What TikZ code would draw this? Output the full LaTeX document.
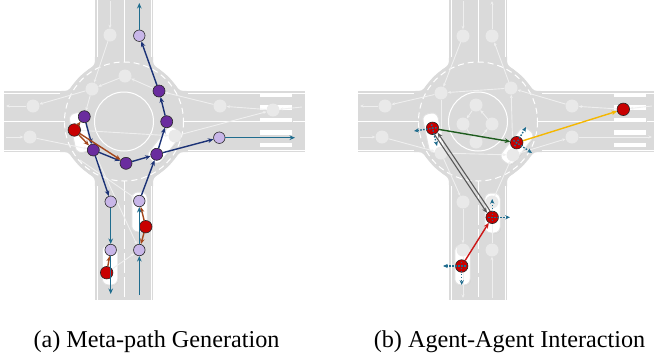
\documentclass[tikz,border=0pt]{standalone}
\usepackage{fontspec}
\setmainfont{Liberation Serif}
\usetikzlibrary{arrows.meta,calc,shadows}
\pgfdeclarelayer{roadlayer}
\pgfdeclarelayer{fadelayer}
\pgfsetlayers{roadlayer,fadelayer,main}
\definecolor{roadg}{HTML}{DADADA}
\definecolor{fadeg}{HTML}{E9E9E9}
\definecolor{fadel}{HTML}{EFEFEF}
\definecolor{lav}{HTML}{C8B6E8}
\definecolor{purp}{HTML}{6A2C9E}
\definecolor{redn}{HTML}{C80000}
\definecolor{navyc}{HTML}{1B3276}
\definecolor{tealc}{HTML}{1F6C8E}
\definecolor{brownc}{HTML}{A4471C}
\definecolor{greenc}{HTML}{1E5C1E}
\definecolor{yellowc}{HTML}{F5B700}
\definecolor{redc}{HTML}{CC1515}
\definecolor{greyc}{HTML}{5A5A5A}
\tikzset{
  tipb/.style={-{Stealth[length=5.5bp,width=4.6bp]}},
  nd/.style={circle, draw=black!85, line width=0.6bp, inner sep=0pt},
  lavn/.style={nd, fill=lav, minimum size=11.5bp},
  purn/.style={nd, fill=purp, minimum size=12bp},
  rednd/.style={nd, fill=redn, minimum size=12.5bp},
  fnode/.style={circle, fill=fadeg, inner sep=0pt, minimum size=13bp},
  fline/.style={draw=fadel, line width=0.9bp, -{Stealth[length=3.5bp,width=3bp]}},
  navye/.style={tipb, draw=navyc, line width=1.4bp},
  teale/.style={tipb, draw=tealc, line width=1.4bp},
  browne/.style={tipb, draw=brownc, line width=1.4bp},
  greene/.style={tipb, draw=greenc, line width=1.4bp},
  yellowe/.style={tipb, draw=yellowc, line width=1.4bp},
  rede/.style={tipb, draw=redc, line width=1.4bp},
  greye/.style={tipb, draw=greyc, line width=1.1bp},
  dotarr/.style={draw=tealc, line width=1.4bp, dash pattern=on 1.5bp off 1.5bp, -{Stealth[length=4.8bp,width=4.2bp]}},
  car/.style={rectangle, rounded corners=6bp, minimum width=15.5bp, minimum height=40bp,
    fill=white, draw=black!12, line width=1bp,
    drop shadow={shadow xshift=0.6bp, shadow yshift=-0.6bp, opacity=0.25, fill=black!40}},
  captxt/.style={anchor=base, inner sep=0pt, font=\fontsize{24.2bp}{29bp}\selectfont}
}
\newcommand{\roadnet}{%
  \fill[roadg] (-29,-121.5) rectangle (29,178.5);
  \fill[roadg] (-120,-30.5) rectangle (181,30.5);
  \fill[roadg] (0,0) circle[radius=63];
  \foreach \sx/\sy in {1/1,1/-1,-1/1,-1/-1}{
    \fill[roadg] (0,0) -- (\sx*29,\sy*64.93) .. controls (\sx*29,\sy*56.55) .. (\sx*35.89,\sy*51.78)
      -- (\sx*50.93,\sy*37.08) .. controls (\sx*55.72,\sy*30.5) .. (\sx*63.87,\sy*30.5) -- cycle;
  }
  \draw[white, line width=1bp] (-27,-121.5) -- (-27,-64.9) (27,-121.5) -- (27,-64.9)
    (-27,64.9) -- (-27,178.5) (27,64.9) -- (27,178.5)
    (-120,-28.5) -- (-63.9,-28.5) (-120,28.5) -- (-63.9,28.5)
    (63.9,-28.5) -- (181,-28.5) (63.9,28.5) -- (181,28.5);
  \draw[white, line width=1bp] (0,-121.5) -- (0,-59.5) (-120,0) -- (-59.5,0) (59.5,0) -- (136,0) (169,0) -- (181,0);
  \draw[white, line width=1bp, dash pattern=on 20bp off 4bp] (0,59.5) -- (0,178.5);
  \draw[white, line width=1bp, dash pattern=on 6bp off 4bp] (0,0) circle[radius=59.5];
  \draw[white, line width=1bp] (0,0) circle[radius=29.5];
  \foreach \yy in {-29,-16.5,-4,8.5,21}{\fill[white] (136,\yy) rectangle (168,\yy+4.5);}
}
\begin{document}
\begin{tikzpicture}[x=1bp, y=-1bp]
\useasboundingbox (0,0) rectangle (654,358);
% ---------- roads and cars ----------
\begin{pgfonlayer}{roadlayer}
  \begin{scope}[shift={(124,121.5)}] \roadnet \end{scope}
  \begin{scope}[shift={(478,121.5)}] \roadnet \end{scope}
  \node[car, rotate=12] (carA1) at (80,132.5) {};
  \node[car, rotate=-38] (carB1) at (164,145) {};
  \node[car] (carC1) at (139.5,212) {};
  \node[car] (carD1) at (110,265) {};
  \node[car, rotate=12] (carA2) at (433.5,133) {};
  \node[car, rotate=-38] (carB2) at (517,146) {};
  \node[car] (carC2) at (492.5,213) {};
  \node[car] (carD2) at (462.5,265) {};
\end{pgfonlayer}
% ---------- main nodes (left) ----------
\node[lavn] (l1) at (139.3,35.7) {};
\node[lavn] (l2) at (219.3,137.7) {};
\node[lavn] (l3) at (110.7,201.7) {};
\node[lavn] (l4) at (139.3,201) {};
\node[lavn] (l5) at (110.7,250) {};
\node[lavn] (l6) at (139.3,250) {};
\node[purn] (p1) at (159,91) {};
\node[purn] (p2) at (166.7,121.7) {};
\node[purn] (p3) at (84.3,116.7) {};
\node[purn] (p4) at (93.3,150) {};
\node[purn] (p5) at (126,163.3) {};
\node[purn] (p6) at (156.7,154.3) {};
\node[rednd] (rA) at (74.3,130) {};
\node[rednd] (rC) at (145.7,226.7) {};
\node[rednd] (rD) at (106.7,272.7) {};
\coordinate (tT) at (139.3,3);
\coordinate (tR) at (295,137.7);
\coordinate (tBL) at (110.7,294);
\coordinate (tBR) at (139.3,295);
% ---------- main nodes (right) ----------
\node[rednd] (r1) at (432.5,128.3) {};
\node[rednd] (r2) at (516.7,142.7) {};
\node[rednd] (r3) at (492.2,217.3) {};
\node[rednd] (r4) at (461.7,266) {};
\node[rednd] (r5) at (623.3,109.3) {};
% ---------- faded graphs ----------
\begin{pgfonlayer}{fadelayer}
  \node[fnode] (fa1) at (110,35) {};
  \node[fnode] (fa2) at (125,76) {};
  \node[fnode] (fa3) at (92,89) {};
  \node[fnode] (fa4) at (33,106) {};
  \node[fnode] (fa5) at (30,137) {};
  \node[fnode] (fa6) at (220,106) {};
  \node[fnode] (fa7) at (273,110) {};
  \node[fnode] (fa8) at (175,136) {};
  \coordinate (fa0) at (110,1);
  \coordinate (faL1) at (6,106);
  \coordinate (faL2) at (6,137);
  \coordinate (faR) at (302,107);
  \coordinate (faC) at (80,160);
  \draw[fline] (fa0) -- (fa1);
  \draw[fline] (fa1) -- (fa3);
  \draw[fline] (fa2) -- (fa3);
  \draw[fline] (p1) -- (fa2);
  \draw[fline] (fa3) -- (fa4);
  \draw[fline] (fa4) -- (faL1);
  \draw[fline] (fa3) -- (p3);
  \draw[fline] (faL2) -- (fa5);
  \draw[fline] (fa5) -- (p4);
  \draw[fline] (faR) -- (fa7);
  \draw[fline] (fa7) -- (fa6);
  \draw[fline] (fa6) -- (p1);
  \draw[fline] (fa8) -- (fa7);
  \draw[fline] (rA) -- (fa8);
  \draw[fline] (faC) -- (l4);
  \draw[fline] (p4) -- (l6);
  \draw[fline] (rD) -- (l6);
  % right panel
  \node[fnode] (fb1) at (463,36) {};
  \node[fnode] (fb2) at (492,36) {};
  \node[fnode] (fb3) at (441,93) {};
  \node[fnode] (fb4) at (511,88) {};
  \node[fnode] (fb5) at (385,106) {};
  \node[fnode] (fb6) at (476,105) {};
  \node[fnode] (fb7) at (572,106) {};
  \node[fnode] (fb8) at (463,124) {};
  \node[fnode] (fb9) at (492,124) {};
  \node[fnode] (fb10) at (382,137) {};
  \node[fnode] (fb11) at (476,142) {};
  \node[fnode] (fb12) at (572,137) {};
  \node[fnode] (fb13) at (463,202) {};
  \node[fnode] (fb14) at (492,202) {};
  \node[fnode] (fb15) at (463,250) {};
  \node[fnode] (fb16) at (492,250) {};
  \node[fnode] (fb17) at (441,153) {};
  \node[fnode] (fb18) at (513,155) {};
  \coordinate (fbT1) at (463,1);
  \coordinate (fbT2) at (492,1);
  \coordinate (fbL1) at (360,106);
  \coordinate (fbL2) at (360,137);
  \coordinate (fbR1) at (652,106);
  \coordinate (fbR2) at (652,137);
  \coordinate (fbB1) at (463,298);
  \coordinate (fbB2) at (492,298);
  \draw[fline] (fbT1) -- (fb1);
  \draw[fline] (fb1) -- (fb3);
  \draw[fline] (fb3) -- (fb5);
  \draw[fline] (fb5) -- (fbL1);
  \draw[fline] (fbL2) -- (fb10);
  \draw[fline] (fb10) -- (fb17);
  \draw[fline] (fb17) -- (fb13);
  \draw[fline] (fb13) -- (fb15);
  \draw[fline] (fb15) -- (fbB1);
  \draw[fline] (fbB2) -- (fb16);
  \draw[fline] (fb16) -- (fb14);
  \draw[fline] (fb14) -- (fb18);
  \draw[fline] (fb18) -- (fb12);
  \draw[fline] (fb12) -- (fbR2);
  \draw[fline] (fbR1) -- (r5);
  \draw[fline] (r5) -- (fb7);
  \draw[fline] (fb7) -- (fb4);
  \draw[fline] (fb4) -- (fb2);
  \draw[fline] (fb2) -- (fbT2);
  \draw[fline] (fb4) -- (fb3);
  \draw[fline] (fb3) -- (fb17);
  \draw[fline] (fb17) -- (fb18);
  \draw[fline] (fb18) -- (fb4);
  \draw[fline] (fb6) -- (fb8);
  \draw[fline] (fb8) -- (fb11);
  \draw[fline] (fb11) -- (fb9);
  \draw[fline] (fb9) -- (fb6);
\end{pgfonlayer}
% ---------- left edges ----------
\draw[navye] (l4) -- (p6);
\draw[navye] (p6) -- (p2);
\draw[navye] (p2) -- (p1);
\draw[navye] (p1) -- (l1);
\draw[navye] (p6) -- (l2);
\draw[navye] (p5) -- (p6);
\draw[navye] (p4) -- (p5);
\draw[navye] (p3) -- (p4);
\draw[navye] (p4) -- (l3);
\draw[browne] (rA) -- (p3);
\draw[browne] (rA) -- (p4);
\draw[browne] (rA) -- (p5);
\draw[browne] (rC) -- (l4);
\draw[browne] (rC) -- (l6);
\draw[browne] (rD) -- (l5);
\draw[teale] (l1) -- (tT);
\draw[teale] (l2) -- (tR);
\draw[teale] (l3) -- (l5);
\draw[teale] (l5) -- (tBL);
\draw[teale] (tBR) -- (l6);
\draw[teale] (l6) -- (l4);
% ---------- right edges ----------
\draw[greene] (r1) -- (r2);
\draw[yellowe] (r2) -- (r5);
\draw[rede] (r4) -- (r3);
\draw[greye, transform canvas={xshift=1.5bp, yshift=1bp}] (r3) -- (r1);
\draw[greye, transform canvas={xshift=-1.5bp, yshift=-1bp}] (r1) -- (r3);
\coordinate (r1L) at (414,131);
\coordinate (r1D) at (437,146);
\coordinate (r2U) at (526,127);
\coordinate (r2R) at (532,153);
\coordinate (r3U) at (492.2,199);
\coordinate (r3R) at (510,217.3);
\coordinate (r4L) at (443,266);
\coordinate (r4D) at (461.7,285);
\foreach \n/\t in {r1/r1L, r1/r1D, r2/r2U, r2/r2R, r3/r3U, r3/r3R, r4/r4L, r4/r4D}{
  \draw[dotarr] ($(\n.center)!-0.22!(\t)$) -- (\t);
}
% ---------- captions ----------
\node[captxt] (capa) at (156.5,347) {(a) Meta-path Generation};
\node[captxt] (capb) at (509.5,347) {(b) Agent-Agent Interaction};
\end{tikzpicture}
\end{document}
